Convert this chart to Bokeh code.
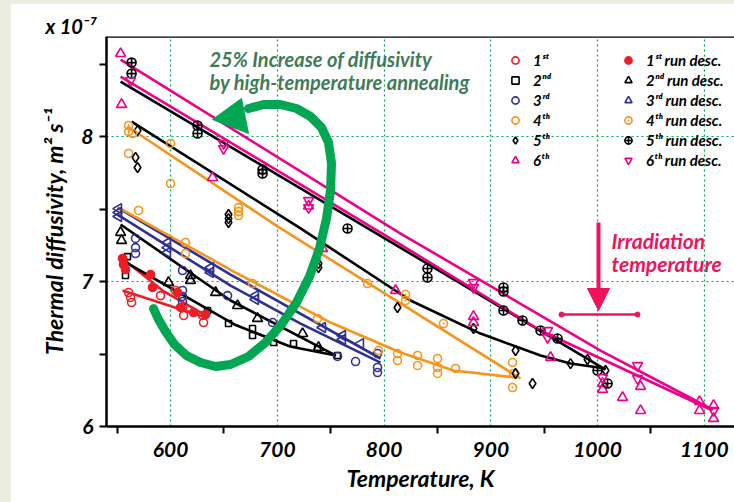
import math
from bokeh.plotting import figure
from bokeh.models import Range1d, FixedTicker, Label, Legend, LegendItem, Arrow, NormalHead, Span, Title
from bokeh.layouts import column
from bokeh.embed import file_html
from bokeh.resources import INLINE

# ---------------- data (T in K, D in 1e-7 m^2/s) ----------------
a1_T = [560.7, 562.5, 563.5, 590.6, 604.7, 611.2, 612.2, 630.0, 630.9]
a1_D = [6.924, 6.890, 6.855, 6.903, 6.938, 6.821, 6.766, 6.766, 6.717]
d1_T = [555.0, 555.9, 557.8, 581.3, 583.1, 606.6, 609.4, 621.5, 632.8]
d1_D = [7.159, 7.117, 7.083, 7.048, 6.959, 6.924, 6.821, 6.786, 6.772]

a2_T = [559.7, 557.8, 634.7, 654.3, 676.8, 676.8, 696.5, 715.2, 737.7, 756.4]
a2_D = [7.172, 7.041, 6.800, 6.710, 6.676, 6.628, 6.579, 6.572, 6.538, 6.490]
d2_T = [553.2, 554.1, 598.1, 618.7, 618.7, 642.2, 662.8, 681.5, 723.7, 738.6]
d2_D = [7.338, 7.283, 6.993, 7.041, 7.007, 6.924, 6.834, 6.745, 6.641, 6.545]

a3_T = [567.2, 567.2, 567.2, 611.2, 611.2, 611.2, 611.2, 653.4, 695.6, 756.4, 773.3, 793.9, 793.9, 793.9]
a3_D = [7.297, 7.234, 7.193, 7.076, 6.938, 6.897, 6.862, 6.903, 6.717, 6.483, 6.448, 6.503, 6.407, 6.372]
d3_T = [551.3, 551.3, 551.3, 597.2, 597.2, 597.2, 637.5, 637.5, 679.6, 679.6, 742.4, 761.1, 761.1, 778.0]
d3_D = [7.503, 7.476, 7.448, 7.269, 7.234, 7.200, 7.097, 7.062, 6.903, 6.876, 6.683, 6.628, 6.600, 6.572]

a4_T = [560.7, 600.0, 570.0, 614.0, 614.0, 676.8, 737.7, 794.8, 812.6, 812.6, 831.4, 831.4, 850.1, 850.1, 850.1, 867.0, 920.4, 921.3]
a4_D = [7.883, 7.676, 7.490, 7.269, 7.193, 6.986, 6.745, 6.524, 6.503, 6.455, 6.490, 6.421, 6.469, 6.407, 6.366, 6.400, 6.441, 6.366]
d4_T = [560.7, 560.7, 564.4, 600.0, 663.7, 663.7, 663.7, 784.5, 820.1, 820.1, 855.7, 920.4]
d4_D = [8.076, 8.034, 8.021, 7.952, 7.510, 7.483, 7.455, 6.986, 6.910, 6.869, 6.710, 6.269]

a5_T = [569.1, 567.2, 569.1, 654.3, 654.3, 654.3, 738.6, 738.6, 812.6, 883.8, 923.2, 923.2, 939.1, 974.7, 990.6, 1007.5]
a5_D = [8.041, 7.855, 7.786, 7.462, 7.434, 7.407, 7.124, 7.097, 6.821, 6.676, 6.524, 6.366, 6.297, 6.434, 6.462, 6.386]
d5_T = [563.5, 563.5, 625.3, 625.3, 686.2, 686.2, 765.8, 840.7, 840.7, 911.9, 911.9, 911.9, 929.7, 946.6, 962.5, 1000.0, 1009.4]
d5_D = [8.510, 8.434, 8.076, 8.021, 7.772, 7.745, 7.366, 7.090, 7.028, 6.959, 6.931, 6.800, 6.731, 6.662, 6.607, 6.386, 6.297]

a6_T = [553.2, 554.1, 639.3, 729.3, 742.4, 810.8, 883.8, 883.8, 956.0, 1004.7, 1004.7, 1023.4, 1040.3, 1040.3, 1095.6, 1095.6, 1108.7, 1108.7]
a6_D = [8.572, 8.221, 7.717, 7.520, 7.228, 6.938, 6.759, 6.717, 6.476, 6.297, 6.255, 6.200, 6.276, 6.110, 6.172, 6.110, 6.145, 6.055]
d6_T = [562.5, 649.6, 649.6, 729.3, 729.3, 883.8, 883.8, 953.2, 953.2, 1004.7, 1037.5, 1037.5, 1108.7]
d6_D = [8.386, 7.952, 7.917, 7.559, 7.510, 6.993, 6.959, 6.662, 6.614, 6.338, 6.421, 6.331, 6.110]

# fitted curves
f_a1_T = [555.0, 633.0];                 f_a1_D = [6.938, 6.752]
f_d1_T = [555.0, 592.5, 633.0];          f_d1_D = [7.159, 6.938, 6.766]
f_a2_T = [555.0, 609.4, 661.0, 712.0, 755.0]; f_a2_D = [7.145, 6.917, 6.700, 6.552, 6.490]
f_d2_T = [553.2, 656.2, 754.6];          f_d2_D = [7.393, 6.869, 6.490]
f_a3_T = [550.4, 656.2, 721.8, 796.7];   f_a3_D = [7.462, 6.972, 6.710, 6.441]
f_d3_T = [550.4, 656.2, 796.7];          f_d3_D = [7.510, 7.048, 6.469]
f_a4_T = [551.3, 660.9, 749.9, 815.5, 865.1, 923.2]; f_a4_D = [7.510, 7.062, 6.717, 6.510, 6.386, 6.338]
f_d4_T = [559.7, 700.2, 927.9];          f_d4_D = [8.069, 7.380, 6.331]
f_a5_T = [563.5, 721.8, 824.8, 890.4, 946.6, 974.7, 1007.5]; f_a5_D = [8.103, 7.366, 6.869, 6.641, 6.490, 6.434, 6.400]
f_d5_T = [553.2, 1007.5];                f_d5_D = [8.379, 6.393]
f_a6_T = [553.2, 815.5, 1002.8, 1105.9]; f_a6_D = [8.531, 7.331, 6.524, 6.124]
f_d6_T = [553.2, 815.5, 946.6, 1107.7];  f_d6_D = [8.414, 7.255, 6.662, 6.110]

x_major = [600, 700, 800, 900, 1000, 1100]
x_minor = [550, 650, 750, 850, 950, 1050]
y_major = [6, 7, 8]
y_minor = [6.5, 7.5, 8.5]

asc_labels = ["1ˢᵗ", "2ⁿᵈ", "3ʳᵈ", "4ᵗʰ", "5ᵗʰ", "6ᵗʰ"]
desc_labels = ["1ˢᵗ run desc.", "2ⁿᵈ run desc.", "3ʳᵈ run desc.", "4ᵗʰ run desc.", "5ᵗʰ run desc.", "6ᵗʰ run desc."]

# ---------------- styling ----------------
FONT = "Lato"
RED, BLUE, ORANGE, BLACK, PINK = "#ee1c25", "#2e3192", "#f7941d", "#000000", "#ec008c"
GREEN, GREEN_TXT, CRIMSON, GRID = "#00a651", "#3f7b58", "#ed145b", "#00a651"

X0, X1, Y0, Y1 = 540.0, 1128.3, 6.0, 8.69
FW, FH = 628, 390

p = figure(width=724, height=499, output_backend="svg", toolbar_location=None,
           x_range=Range1d(X0, X1), y_range=Range1d(Y0, Y1),
           min_border_left=96, min_border_right=0, min_border_top=33, min_border_bottom=76)
p.outline_line_color = None
p.background_fill_color = "white"
p.border_fill_color = "white"

p.title = Title(text="x 10⁻⁷", align="left", offset=-61, text_font=FONT, text_font_style="bold italic",
                text_font_size="20px", text_color="black", standoff=-2)

for ax in (p.xaxis[0], p.yaxis[0]):
    ax.axis_line_width = 2.5
    ax.axis_line_color = "black"
    ax.major_tick_line_width = 2
    ax.minor_tick_line_width = 2
    ax.major_tick_line_color = "black"
    ax.minor_tick_line_color = "black"
    ax.major_label_text_font = FONT
    ax.major_label_text_font_style = "bold italic"
    ax.major_label_text_font_size = "21px"
    ax.major_label_text_color = "black"
    ax.axis_label_text_font = FONT
    ax.axis_label_text_font_style = "bold italic"
    ax.axis_label_text_font_size = "23px"
    ax.axis_label_text_color = "black"

p.xaxis.ticker = FixedTicker(ticks=x_major, minor_ticks=x_minor)
p.xaxis.major_tick_out = 0
p.xaxis.major_tick_in = 0
p.xaxis.minor_tick_out = 7
p.xaxis.minor_tick_in = 0
p.xaxis.major_label_standoff = 8
p.xaxis.axis_label = "Temperature, K"
p.xaxis.axis_label_standoff = 4

p.yaxis.ticker = FixedTicker(ticks=y_major, minor_ticks=y_minor)
p.yaxis.major_tick_out = 7
p.yaxis.major_tick_in = 0
p.yaxis.minor_tick_out = 7
p.yaxis.minor_tick_in = 0
p.yaxis.major_label_standoff = 6
p.yaxis.axis_label = "Thermal diffusivity, m² s⁻¹"
p.yaxis.axis_label_standoff = 10

p.xgrid.ticker = FixedTicker(ticks=x_major)
p.ygrid.ticker = FixedTicker(ticks=[7, 8])
for g in (p.xgrid[0], p.ygrid[0]):
    g.grid_line_color = GRID
    g.grid_line_dash = "2 3"
    g.grid_line_width = 1.2

p.add_layout(Span(location=Y1, dimension="width", line_color="black", line_width=2.5))

# fit curves
fits = [(f_a1_T, f_a1_D, RED), (f_d1_T, f_d1_D, RED), (f_a2_T, f_a2_D, BLACK), (f_d2_T, f_d2_D, BLACK),
        (f_a3_T, f_a3_D, BLUE), (f_d3_T, f_d3_D, BLUE), (f_a4_T, f_a4_D, ORANGE), (f_d4_T, f_d4_D, ORANGE),
        (f_a5_T, f_a5_D, BLACK), (f_d5_T, f_d5_D, BLACK), (f_a6_T, f_a6_D, PINK), (f_d6_T, f_d6_D, PINK)]
for fx, fy, c in fits:
    p.line(fx, fy, line_color=c, line_width=2.6)

# scatter series
def sc(x, y, marker, color, size, fill=None, angle=0.0):
    return p.scatter(x, y, marker=marker, size=size, line_color=color, line_width=1.6,
                     fill_color=fill if fill else "white", fill_alpha=1.0 if fill else 0.0, angle=angle)

asc = [sc(a1_T, a1_D, "circle", RED, 8), sc(a2_T, a2_D, "square", BLACK, 6),
       sc(a3_T, a3_D, "circle", BLUE, 8), sc(a4_T, a4_D, "circle", ORANGE, 8),
       sc(a5_T, a5_D, "diamond", BLACK, 10), sc(a6_T, a6_D, "triangle", PINK, 10)]
desc = [sc(d1_T, d1_D, "circle", RED, 8, fill=RED), sc(d2_T, d2_D, "triangle", BLACK, 10),
        sc(d3_T, d3_D, "triangle", BLUE, 10, angle=math.pi / 2), sc(d4_T, d4_D, "circle_dot", ORANGE, 8),
        sc(d5_T, d5_D, "circle_cross", BLACK, 9), sc(d6_T, d6_D, "inverted_triangle", PINK, 10)]

def mk_legend(renderers, labels, loc, standoff):
    lg = Legend(items=[LegendItem(label=l, renderers=[r]) for l, r in zip(labels, renderers)],
                location=loc, padding=0, spacing=0, margin=0, glyph_width=18, glyph_height=20,
                label_height=20, label_standoff=standoff, border_line_color=None,
                background_fill_alpha=0.0, label_text_font=FONT, label_text_font_style="bold italic",
                label_text_font_size="15px", label_text_color="black")
    p.add_layout(lg)

mk_legend(asc, asc_labels, (400, 256), 9)
mk_legend(desc, desc_labels, (513, 256), 9)

# ---------------- annotations ----------------
def px(xp):  # page pixel -> data T
    return X0 + (xp - 106) * (X1 - X0) / FW
def py(yp):  # page pixel -> data D
    return Y0 + (426 - yp) * (Y1 - Y0) / FH

# green curved arrow
gx = [153, 158, 165, 174, 186, 200, 215, 230, 248, 265, 281, 296, 309, 319, 326, 330, 331, 328, 321, 310, 296, 280, 263, 248]
gy = [308, 319, 331, 344, 355, 362, 366, 364, 356, 342, 324, 302, 276, 248, 218, 190, 163, 142, 127, 116, 108, 104, 104, 108]
p.line([px(v) for v in gx], [py(v) for v in gy], line_color=GREEN, line_width=9, line_join="round", line_cap="round")
p.patch([px(v) for v in (212, 241, 248)], [py(v) for v in (119, 98, 133)], fill_color=GREEN, line_color=GREEN, line_width=1)

# irradiation temperature marker
p.add_layout(Arrow(x_start=px(598), y_start=py(222), x_end=px(598), y_end=py(310), line_color=CRIMSON,
                   line_width=4, end=NormalHead(size=22, fill_color=CRIMSON, line_color=CRIMSON)))
p.line([px(561), px(637)], [py(314), py(314)], line_color=CRIMSON, line_width=2.5)
p.scatter([px(561), px(637)], [py(314), py(314)], size=5, color=CRIMSON)

def lab(text, xp, yp, color, size, baseline="top"):
    p.add_layout(Label(x=xp - 106, y=426 - yp, x_units="screen", y_units="screen", text=text,
                       text_font=FONT, text_font_style="bold italic", text_font_size=size,
                       text_color=color, text_baseline=baseline))

lab("25% Increase of diffusivity", 209, 46, GREEN_TXT, "20px")
lab("by high-temperature annealing", 209, 69, GREEN_TXT, "20px")
lab("Irradiation", 611, 227, CRIMSON, "21px")
lab("temperature", 611, 250, CRIMSON, "21px")

layout = column(p, styles={"background-color": "#ececdf"}, width=734, height=502)
p.margin = (3, 0, 0, 10)
open("out.html", "w").write(file_html(layout, INLINE))
